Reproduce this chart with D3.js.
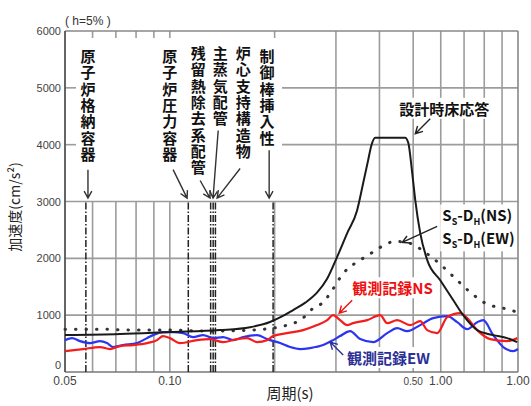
<!DOCTYPE html>
<html><head><meta charset="utf-8">
<script src="https://cdn.jsdelivr.net/npm/d3@7"></script>
<style>body{margin:0;background:#fff}svg{display:block}</style>
</head><body>
<svg id="c" width="531" height="406"></svg>
<script>
// ---- data (period [s], acceleration [cm/s^2]) ----
const designResponse = [[0.05,649],[0.072,667],[0.10,702],[0.139,737],[0.170,789],[0.194,880],[0.212,990],[0.226,1090],[0.245,1220],[0.265,1400],[0.283,1640],[0.302,2018],[0.323,2439],[0.345,2842],[0.359,3316],[0.371,3719],[0.379,3982],[0.389,4123],[0.474,4123],[0.484,4035],[0.497,3491],[0.507,3018],[0.524,2439],[0.549,1965],[0.598,1614],[0.652,1263],[0.696,1000],[0.764,737],[0.849,649],[0.931,596],[0.995,526]];
const ssDH = [[0.05,754],[0.063,754],[0.077,737],[0.10,737],[0.130,719],[0.170,737],[0.212,807],[0.241,947],[0.258,1123],[0.276,1228],[0.2925,1439],[0.315,1737],[0.340,1912],[0.371,2053],[0.402,2193],[0.444,2298],[0.490,2263],[0.541,2105],[0.598,1895],[0.660,1649],[0.729,1404],[0.816,1193],[0.907,1123],[0.995,1053]];
const obsNS = [[0.050,368],[0.0563,404],[0.0630,439],[0.0673,404],[0.0719,456],[0.0784,474],[0.0860,509],[0.0919,561],[0.0956,632],[0.100,596],[0.107,509],[0.1198,561],[0.1305,579],[0.1422,526],[0.1561,579],[0.1667,596],[0.1781,526],[0.1903,561],[0.198,632],[0.2172,684],[0.2414,737],[0.2649,825],[0.2830,912],[0.2945,1000],[0.3084,912],[0.3230,825],[0.3362,860],[0.3688,912],[0.4019,1000],[0.4209,860],[0.4498,912],[0.4902,825],[0.5237,895],[0.5485,737],[0.5861,684],[0.6262,965],[0.6824,1035],[0.7147,947],[0.7636,737],[0.8322,579],[0.9313,544],[0.9952,596]];
const obsEW = [[0.050,561],[0.0524,596],[0.0552,544],[0.0590,509],[0.0630,544],[0.0660,509],[0.0687,439],[0.0734,474],[0.0805,509],[0.0860,596],[0.0895,649],[0.0956,702],[0.1022,702],[0.1092,684],[0.1166,614],[0.1246,649],[0.1331,596],[0.1422,614],[0.1520,561],[0.1624,614],[0.1781,649],[0.1903,579],[0.2074,509],[0.2216,439],[0.2367,404],[0.2529,421],[0.2757,474],[0.2945,561],[0.3084,632],[0.3296,719],[0.3521,579],[0.3837,526],[0.4209,684],[0.4498,772],[0.4806,719],[0.5237,825],[0.5707,947],[0.6262,982],[0.6689,877],[0.7147,754],[0.7636,877],[0.7944,912],[0.8489,649],[0.9069,439],[0.9691,368],[1.0,404]];

const equipNames = ['原子炉格納容器','原子炉圧力容器','残留熱除去系配管','主蒸気配管','炉心支持構造物','制御棒挿入性'];
const equipPeriods = [0.0574,0.113,0.131,0.1332,0.1352,0.198];

const yTicks = [0,1000,2000,3000,4000,5000,6000];
const xTickValues = [0.05,0.10,0.50,0.60,1.00];
const xTickLabels = ['0.05','0.10','0.50','1.00','1.00'];
const gridLow = [0.06,0.07,0.08,0.09,0.10,0.2];
const gridHigh = [0.3,0.4,0.5,0.6,0.7,0.8,0.9];
const hGridFull = [1000,2000,3000];
const hGridRight = [4000,5000];

// ---- annotation layout (in data coordinates) ----
const equipLabelAt = [[0.0582,5684],[0.100,5684],[0.1206,5737],[0.1395,5737],[0.1624,5737],[0.1903,5684]];
const equipArrows = [[[0.0582,3560],[0.0582,3060]],[[0.1022,3560],[0.1121,3060]],[[0.1222,3370],[0.1305,3060]],[[0.1377,4250],[0.1331,3060]],[[0.1592,3580],[0.1367,3060]],[[0.1929,3900],[0.1929,3060]]];

const svg = d3.select('#c');
const x = d3.scaleLog().domain([0.05,1]).range([65,518]);
const y = d3.scaleLinear().domain([0,6000]).range([372,31]);
const GRID = '#9c9c9c';

// grid
const g = svg.append('g');
g.selectAll('.hf').data(hGridFull).join('line')
  .attr('x1',x(0.05)).attr('x2',x(1)).attr('y1',d=>y(d)).attr('y2',d=>y(d))
  .attr('stroke',GRID).attr('stroke-width',1.6);
g.selectAll('.hr').data(hGridRight).join('line')
  .attr('x1',x(0.21)).attr('x2',x(1)).attr('y1',d=>y(d)).attr('y2',d=>y(d))
  .attr('stroke',GRID).attr('stroke-width',1.6);
g.selectAll('.hl').data(hGridRight).join('line')
  .attr('x1',x(0.05)).attr('x2',x(0.05)+11).attr('y1',d=>y(d)).attr('y2',d=>y(d))
  .attr('stroke',GRID).attr('stroke-width',1.6);
g.selectAll('.vl').data(gridLow).join('line')
  .attr('x1',d=>x(d)).attr('x2',d=>x(d)).attr('y1',y(0)).attr('y2',y(3000))
  .attr('stroke',GRID).attr('stroke-width',1.6);
g.selectAll('.vt').data(gridLow).join('line')
  .attr('x1',d=>x(d)).attr('x2',d=>x(d)).attr('y1',y(6000)).attr('y2',y(6000)+7)
  .attr('stroke',GRID).attr('stroke-width',1.6);
g.selectAll('.vh').data(gridHigh).join('line')
  .attr('x1',d=>x(d)).attr('x2',d=>x(d)).attr('y1',y(0)).attr('y2',y(6000))
  .attr('stroke',GRID).attr('stroke-width',1.6);
// frame
g.append('line').attr('x1',x(0.05)).attr('x2',x(1)).attr('y1',y(6000)).attr('y2',y(6000)).attr('stroke','#888').attr('stroke-width',1.6);
g.append('line').attr('x1',x(1)).attr('x2',x(1)).attr('y1',y(0)).attr('y2',y(6000)).attr('stroke','#888').attr('stroke-width',1.6);
g.append('line').attr('x1',x(0.05)).attr('x2',x(1)).attr('y1',y(0)).attr('y2',y(0)).attr('stroke','#777').attr('stroke-width',1.6);
g.append('line').attr('x1',x(0.05)).attr('x2',x(0.05)).attr('y1',y(0)).attr('y2',y(6000)).attr('stroke','#555').attr('stroke-width',1.8);

// equipment dash-dot lines
g.selectAll('.eq').data(equipPeriods).join('line')
  .attr('x1',d=>x(d)).attr('x2',d=>x(d)).attr('y1',y(0)).attr('y2',y(3000))
  .attr('stroke','#222').attr('stroke-width',1.5).attr('stroke-dasharray','7,2,1.5,2');

// axes labels
const TF = '"Liberation Sans", Arial, sans-serif';
svg.selectAll('.yt').data(yTicks).join('text')
  .attr('x',61).attr('y',d=>d===0?y(d)-3:y(d)+4).attr('text-anchor','end')
  .attr('font-family',TF).attr('font-size',11).attr('fill','#444').text(d=>d);
svg.selectAll('.xt').data(xTickValues).join('text')
  .attr('x',d=>x(d)).attr('y',385).attr('text-anchor','middle')
  .attr('font-family',TF).attr('font-size',(d,i)=>i===2?10:12).attr('fill','#444')
  .text((d,i)=>xTickLabels[i]);
svg.append('text').attr('x',65).attr('y',25).attr('font-family',TF).attr('font-size',12).attr('fill','#333').text('( h=5% )');
svg.append('text').attr('transform','translate(20,207) rotate(-90)').attr('text-anchor','middle')
  .attr('font-family','"Noto Sans CJK JP", sans-serif').attr('font-size',14).attr('fill','#222').text('加速度(cm/s²)');
svg.append('text').attr('x',290).attr('y',399).attr('text-anchor','middle')
  .attr('font-family','"Noto Sans CJK JP", sans-serif').attr('font-size',15).attr('fill','#222').text('周期(s)');

// curves
const line = d3.line().x(d=>x(d[0])).y(d=>y(d[1])).curve(d3.curveMonotoneX);
svg.append('path').datum(obsEW).attr('d',line).attr('fill','none').attr('stroke','#2b35f0').attr('stroke-width',2.2);
svg.append('path').datum(obsNS).attr('d',line).attr('fill','none').attr('stroke','#f41c1c').attr('stroke-width',2.2);
svg.append('path').datum(ssDH).attr('d',line).attr('fill','none').attr('stroke','#333').attr('stroke-width',3)
  .attr('stroke-linecap','round').attr('stroke-dasharray','0.5,10');
svg.append('path').datum(designResponse).attr('d',line).attr('fill','none').attr('stroke','#1a1a1a').attr('stroke-width',2);

// arrows
function arrow(p1,p2,color,w){
  const x1=x(p1[0]),y1=y(p1[1]),x2=x(p2[0]),y2=y(p2[1]);
  const a=Math.atan2(y2-y1,x2-x1), L=8, s=0.5;
  svg.append('path').attr('fill','none').attr('stroke',color).attr('stroke-width',w||1.4)
    .attr('d',`M${x1},${y1}L${x2},${y2}M${x2-L*Math.cos(a-s)},${y2-L*Math.sin(a-s)}L${x2},${y2}L${x2-L*Math.cos(a+s)},${y2-L*Math.sin(a+s)}`);
}
equipArrows.forEach(a=>arrow(a[0],a[1],'#333',1.4));

// vertical equipment labels
const JF = '"Noto Sans CJK JP", sans-serif';
equipNames.forEach((n,i)=>{
  svg.append('text').attr('x',x(equipLabelAt[i][0])).attr('y',y(equipLabelAt[i][1]))
    .style('writing-mode','vertical-rl').attr('font-family',JF).attr('font-weight',700)
    .attr('font-size',15).attr('letter-spacing',1.3).attr('fill','#111').text(n);
});

// boxed labels
function boxed(t){
  const bb=t.node().getBBox();
  svg.insert('rect',()=>t.node()).attr('x',bb.x-2).attr('y',bb.y).attr('width',bb.width+4).attr('height',bb.height).attr('fill','#fff');
}
const lab1 = svg.append('text').attr('x',x(0.4558)).attr('y',y(4526)).attr('font-family',JF).attr('font-weight',700)
  .attr('font-size',15).attr('fill','#111').text('設計時床応答');
boxed(lab1);
arrow([0.5596,4456],[0.507,4193],'#222',1.4);

function ssLabel(v,suffix){
  const t=svg.append('text').attr('x',x(0.606)).attr('y',y(v)).attr('font-family',JF).attr('font-weight',700).attr('font-size',15).attr('fill','#111');
  t.append('tspan').text('S');
  t.append('tspan').attr('font-size',9).attr('dy',4).text('S');
  t.append('tspan').attr('dy',-4).text('-D');
  t.append('tspan').attr('font-size',9).attr('dy',4).text('H');
  t.append('tspan').attr('dy',-4).text(suffix);
  boxed(t);
}
ssLabel(2649,'(NS)');
ssLabel(2246,'(EW)');
arrow([0.586,2561],[0.465,2281],'#222',1.4);

const labNS = svg.append('text').attr('x',x(0.334)).attr('y',y(1368)).attr('font-family',JF).attr('font-weight',700)
  .attr('font-size',15).attr('fill','#ee1111').text('観測記録NS');
boxed(labNS);
arrow([0.334,1263],[0.3065,1035],'#ee1111',1.4);

const labEW = svg.append('text').attr('x',x(0.323)).attr('y',y(140)).attr('font-family',JF).attr('font-weight',700)
  .attr('font-size',15).attr('fill','#2b2f96').text('観測記録EW');
boxed(labEW);
arrow([0.3147,298],[0.2887,526],'#2b2f96',1.4);
</script>
</body></html>
